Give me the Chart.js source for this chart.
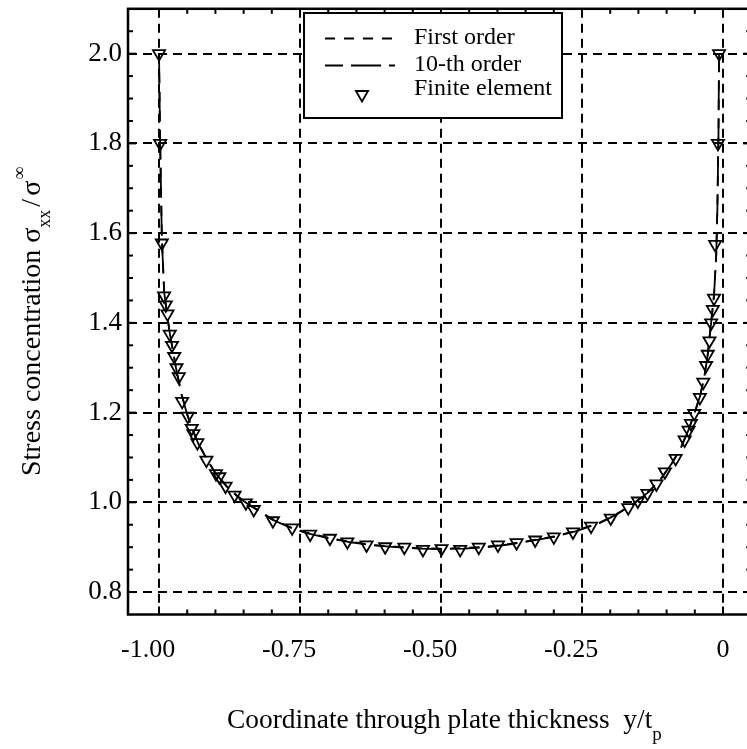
<!DOCTYPE html>
<html><head><meta charset="utf-8">
<script src="https://cdn.jsdelivr.net/npm/chart.js@4"></script>
<style>html,body{margin:0;padding:0;overflow:hidden;background:#fff;width:747px;height:749px}canvas{display:block}</style>
</head><body>
<canvas id="c" width="760" height="749" style="width:760px;height:749px"></canvas>
<script>
// ---- data ----
const feX = [-1.000,-0.998,-0.995,-0.991,-0.988,-0.985,-0.981,-0.977,-0.973,-0.969,-0.965,-0.959,-0.949,-0.942,-0.939,-0.932,-0.916,-0.899,-0.893,-0.882,-0.866,-0.846,-0.832,-0.798,-0.764,-0.732,-0.697,-0.666,-0.632,-0.599,-0.565,-0.532,-0.499,-0.466,-0.433,-0.399,-0.366,-0.333,-0.300,-0.266,-0.234,-0.199,-0.168,-0.151,-0.134,-0.118,-0.103,-0.084,-0.068,-0.061,-0.057,-0.051,-0.041,-0.035,-0.030,-0.027,-0.024,-0.021,-0.018,-0.016,-0.014,-0.009,-0.007];
const feY = [2.000,1.800,1.578,1.460,1.440,1.420,1.375,1.350,1.325,1.300,1.280,1.225,1.192,1.165,1.153,1.133,1.094,1.064,1.057,1.036,1.016,0.999,0.984,0.959,0.943,0.929,0.920,0.912,0.905,0.901,0.900,0.895,0.897,0.895,0.900,0.905,0.910,0.916,0.923,0.934,0.947,0.965,0.988,1.003,1.020,1.041,1.068,1.098,1.139,1.161,1.176,1.198,1.234,1.268,1.305,1.330,1.360,1.400,1.430,1.455,1.575,1.800,2.000];
const curveX = [-1.000,-0.998,-0.995,-0.991,-0.985,-0.980,-0.975,-0.970,-0.965,-0.960,-0.950,-0.940,-0.930,-0.915,-0.900,-0.880,-0.860,-0.840,-0.820,-0.800,-0.770,-0.740,-0.700,-0.660,-0.620,-0.580,-0.540,-0.500,-0.460,-0.420,-0.380,-0.340,-0.300,-0.260,-0.220,-0.190,-0.160,-0.130,-0.110,-0.090,-0.075,-0.060,-0.050,-0.040,-0.033,-0.027,-0.021,-0.016,-0.012,-0.010,-0.008,-0.007];
const tenthOrderY = [2.000,1.800,1.590,1.470,1.410,1.370,1.335,1.300,1.270,1.240,1.195,1.160,1.130,1.095,1.065,1.035,1.012,0.994,0.978,0.962,0.945,0.932,0.920,0.911,0.904,0.900,0.897,0.896,0.897,0.900,0.906,0.914,0.923,0.936,0.953,0.972,0.995,1.025,1.052,1.088,1.120,1.165,1.200,1.240,1.280,1.330,1.400,1.460,1.550,1.650,1.820,2.000];
const firstOrderY = [2.000,1.805,1.595,1.472,1.412,1.371,1.336,1.301,1.271,1.241,1.196,1.161,1.131,1.096,1.066,1.036,1.013,0.995,0.979,0.963,0.946,0.933,0.921,0.912,0.905,0.901,0.898,0.897,0.898,0.901,0.907,0.915,0.924,0.937,0.954,0.973,0.996,1.026,1.053,1.089,1.121,1.166,1.201,1.241,1.281,1.331,1.402,1.462,1.552,1.655,1.825,2.000];
const xTickValues = [-1, -0.75, -0.5, -0.25, 0];
const xTickLabels = ['-1.00', '-0.75', '-0.50', '-0.25', '0'];
const yTickValues = [0.8, 1.0, 1.2, 1.4, 1.6, 1.8, 2.0];
const yTickLabels = ['0.8', '1.0', '1.2', '1.4', '1.6', '1.8', '2.0'];
const seriesNames = ['First order', '10-th order', 'Finite element'];
const xTitle = 'Coordinate through plate thickness  y/t', xTitleSub = 'p';
const yTitleParts = ['Stress concentration ', 'σ', 'xx', '/', 'σ', '∞'];

const SERIF = '"Liberation Serif", "Times New Roman", serif';
const pts = (xs, ys) => xs.map((x, i) => ({x, y: ys[i]}));

function drawTri(ctx, x, y, r, lw) {
  ctx.save();
  ctx.lineWidth = lw; ctx.strokeStyle = '#000'; ctx.setLineDash([]);
  ctx.beginPath();
  let rad = Math.PI;
  for (let k = 0; k < 3; k++) {
    const px = x + Math.sin(rad) * r, py = y - Math.cos(rad) * r;
    if (k === 0) ctx.moveTo(px, py); else ctx.lineTo(px, py);
    rad += 2 * Math.PI / 3;
  }
  ctx.closePath(); ctx.stroke(); ctx.restore();
}

const decor = {
  id: 'decor',
  afterDraw(chart) {
    const ctx = chart.ctx, a = chart.chartArea, xs = chart.scales.x, ys = chart.scales.y;
    ctx.save();
    ctx.strokeStyle = '#000'; ctx.setLineDash([]);
    const seg = (x1, y1, x2, y2) => { ctx.beginPath(); ctx.moveTo(x1, y1); ctx.lineTo(x2, y2); ctx.stroke(); };
    // inward ticks
    ctx.lineWidth = 2;
    for (let i = -21; i <= 1; i++) {
      const px = xs.getPixelForValue(i * 0.05);
      if (px < a.left + 4 || px > a.right - 4) continue;
      const L = (i % 5 === 0) ? 8 : 5;
      seg(px, a.bottom, px, a.bottom - L);
      seg(px, a.top, px, a.top + L);
    }
    for (let i = 15; i <= 42; i++) {
      const py = ys.getPixelForValue(i * 0.05);
      if (py < a.top + 4 || py > a.bottom - 4) continue;
      const L = (i % 4 === 0) ? 8 : 5;
      seg(a.left, py, a.left + L, py);
      seg(a.right, py, a.right - L, py);
    }
    // frame
    ctx.lineWidth = 2.5;
    ctx.strokeRect(a.left, a.top, a.right - a.left, a.bottom - a.top);

    // legend
    const ds = chart.data.datasets;
    ctx.fillStyle = '#fff';
    ctx.fillRect(304, 13, 258, 105);
    ctx.lineWidth = 2; ctx.strokeStyle = '#000';
    ctx.strokeRect(304, 13, 258, 105);
    const rowsLine = [38.5, 65.5];
    for (let k = 0; k < 2; k++) {
      ctx.lineWidth = ds[k].borderWidth;
      ctx.setLineDash(ds[k].borderDash);
      ctx.lineDashOffset = k === 1 ? 12 : 0;
      seg(325, rowsLine[k], 395, rowsLine[k]);
    }
    ctx.setLineDash([]); ctx.lineDashOffset = 0;
    drawTri(ctx, 362, 94.5, ds[2].pointRadius, ds[2].borderWidth);
    ctx.fillStyle = '#000';
    ctx.font = '24px ' + SERIF; ctx.textAlign = 'left'; ctx.textBaseline = 'alphabetic';
    const base = [44, 71, 95];
    seriesNames.forEach((n, k) => ctx.fillText(n, 414, base[k]));

    // x title
    ctx.font = '27.4px ' + SERIF;
    ctx.fillText(xTitle, 227, 728);
    const w = ctx.measureText(xTitle).width;
    ctx.font = '19px ' + SERIF;
    ctx.fillText(xTitleSub, 227 + w, 740);

    // y title
    ctx.save();
    ctx.translate(40, 476); ctx.rotate(-Math.PI / 2);
    let x = 0;
    const part = (t, size, dy, gap) => { ctx.font = size + 'px ' + SERIF; ctx.fillText(t, x, dy); x += ctx.measureText(t).width + (gap || 0); };
    part(yTitleParts[0], 28, 0);
    part(yTitleParts[1], 28, 0);
    part(yTitleParts[2], 18, 10, 3);
    part(yTitleParts[3], 28, 0, 3);
    part(yTitleParts[4], 28, 0, 1);
    part(yTitleParts[5], 18, -15);
    ctx.restore();
    ctx.restore();
  }
};

const zeroPad = s => { s.paddingTop = 0; s.paddingBottom = 0; s.paddingLeft = 0; s.paddingRight = 0; };

new Chart(document.getElementById('c'), {
  type: 'scatter',
  data: {
    datasets: [
      { label: seriesNames[0], data: pts(curveX, firstOrderY), showLine: true, pointRadius: 0,
        borderColor: '#000', borderWidth: 1.8, borderDash: [10, 9], fill: false, order: 1 },
      { label: seriesNames[1], data: pts(curveX, tenthOrderY), showLine: true, pointRadius: 0,
        borderColor: '#000', borderWidth: 1.8, borderDash: [30, 8], fill: false, order: 2 },
      { label: seriesNames[2], data: pts(feX, feY), showLine: false, pointStyle: 'triangle', rotation: 180,
        pointRadius: 7, borderWidth: 1.8, borderColor: '#000', backgroundColor: 'rgba(0,0,0,0)', order: 0 }
    ]
  },
  options: {
    responsive: false, animation: false, devicePixelRatio: 1,
    layout: { padding: { left: 0, right: 6.7, top: 8.6, bottom: 0 } },
    plugins: { legend: { display: false }, tooltip: { enabled: false } },
    scales: {
      x: {
        type: 'linear', min: -1.055, max: 0.05,
        afterBuildTicks: s => { s.ticks = xTickValues.map(v => ({ value: v })); },
        afterFit: s => { s.height = 134.5; zeroPad(s); },
        grid: { color: '#000', lineWidth: 2, drawTicks: false },
        border: { display: false, dash: [9, 6] },
        ticks: {
          color: '#000', padding: 20, font: { family: SERIF, size: 26 }, maxRotation: 0, autoSkip: false,
          callback: (v, i) => { const l = xTickLabels[xTickValues.indexOf(v)]; return l === undefined ? '' : (l.startsWith('-') ? l + '\u2007\u2004' : l); }
        }
      },
      y: {
        type: 'linear', min: 0.75, max: 2.1,
        afterBuildTicks: s => { s.ticks = yTickValues.map(v => ({ value: v })); },
        afterFit: s => { s.width = 128; zeroPad(s); },
        grid: { color: '#000', lineWidth: 2, drawTicks: false },
        border: { display: false, dash: [9, 6] },
        ticks: {
          color: '#000', padding: 6, font: { family: SERIF, size: 27 }, autoSkip: false,
          callback: (v) => { const i = yTickValues.findIndex(t => Math.abs(t - v) < 1e-9); return i < 0 ? '' : yTickLabels[i]; }
        }
      }
    }
  },
  plugins: [decor]
});
</script>
</body></html>
